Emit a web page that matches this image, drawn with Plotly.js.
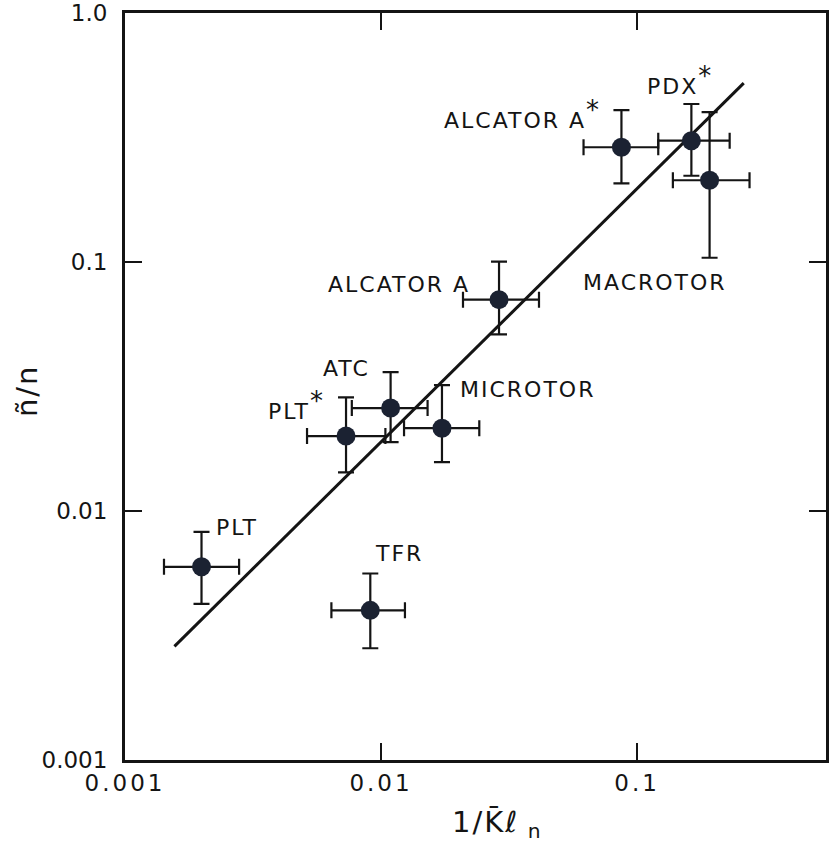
<!DOCTYPE html>
<html>
<head>
<meta charset="utf-8">
<script src="https://cdn.plot.ly/plotly-3.0.1.min.js"></script>
<style>
  html, body { margin: 0; padding: 0; background: #ffffff; }
  #chart { width: 832px; height: 846px; }
  .annotation-text { letter-spacing: 2px; }
  .xtick text { letter-spacing: 3px; }
</style>
</head>
<body>
<div id="chart"></div>
<script>
// Data (log-log axes)
const names = ["PLT", "TFR", "PLT*", "ATC", "MICROTOR", "ALCATOR A", "ALCATOR A*", "PDX*", "MACROTOR"];
const starred = [false, false, true, false, false, false, true, true, false];
const xVal  = [0.00199, 0.00908, 0.0073, 0.0109, 0.0173, 0.0289, 0.0869, 0.163, 0.192];
const xLow  = [0.00142, 0.0064, 0.00514, 0.00769, 0.0123, 0.0209, 0.0618, 0.121, 0.138];
const xHigh = [0.00279, 0.0124, 0.0104, 0.0152, 0.0242, 0.0414, 0.121, 0.230, 0.275];
const yVal  = [0.00597, 0.00399, 0.0200, 0.0259, 0.0215, 0.0706, 0.289, 0.307, 0.213];
const yLow  = [0.00424, 0.00281, 0.0143, 0.0189, 0.0157, 0.0512, 0.207, 0.222, 0.104];
const yHigh = [0.00824, 0.00561, 0.0286, 0.0361, 0.0320, 0.1004, 0.407, 0.431, 0.400];
const fitX = [0.00156, 0.261];
const fitY = [0.00286, 0.523];
const xTickVals = [0.001, 0.01, 0.1];
const xTickText = ["0.001", "0.01", "0.1"];
const yTickVals = [0.001, 0.01, 0.1, 1];
const yTickText = ["0.001", "0.01", "0.1", "1.0"];

// Label placement (pixel offsets from each point)
const labelPos = [
  {xa: "left",   dx: 12,  dy: 39},
  {xa: "left",   dx: 3,   dy: 57},
  {xa: "right",  dx: -19, dy: 31},
  {xa: "right",  dx: -19, dy: 40},
  {xa: "left",   dx: 16,  dy: 39},
  {xa: "right",  dx: -27, dy: 15},
  {xa: "right",  dx: -18, dy: 33},
  {xa: "left",   dx: -46, dy: 61},
  {xa: "center", dx: -55, dy: -102}
];

const ink = "#141414";
const dot = "#1b2232";

const points = {
  x: xVal, y: yVal, type: "scatter", mode: "markers", text: names,
  marker: {size: 19, color: dot, line: {width: 0}},
  error_x: {type: "data", symmetric: false,
    array: xHigh.map((h, i) => h - xVal[i]),
    arrayminus: xLow.map((l, i) => xVal[i] - l),
    color: ink, thickness: 2.2, width: 8},
  error_y: {type: "data", symmetric: false,
    array: yHigh.map((h, i) => h - yVal[i]),
    arrayminus: yLow.map((l, i) => yVal[i] - l),
    color: ink, thickness: 2.2, width: 8},
  hoverinfo: "text"
};

const fit = {
  x: fitX, y: fitY, type: "scatter", mode: "lines",
  line: {color: ink, width: 3}, hoverinfo: "skip"
};

const font = {family: "DejaVu Sans, Liberation Sans, sans-serif", color: ink};

const annotations = names.map((n, i) => {
  const base = starred[i] ? n.slice(0, -1) : n;
  const txt = starred[i] ? base + "<sup><span style='font-size:26px'>*</span></sup>" : base;
  return {
    x: Math.log10(xVal[i]), y: Math.log10(yVal[i]), xref: "x", yref: "y",
    text: txt, showarrow: false, xanchor: labelPos[i].xa, yanchor: "middle",
    xshift: labelPos[i].dx, yshift: labelPos[i].dy,
    font: Object.assign({size: 22}, font)
  };
});

annotations.push({
  xref: "paper", yref: "paper", x: 0.531, y: -0.057, xanchor: "center", yanchor: "top",
  text: "1/K\u0304\u2113<sub> n</sub>", showarrow: false,
  font: Object.assign({size: 29}, font)
});
annotations.push({
  xref: "paper", yref: "paper", x: -0.14, y: 0.495, xanchor: "center", yanchor: "middle",
  text: "n\u0303/n", showarrow: false, textangle: -90,
  font: Object.assign({size: 29}, font)
});

const axisCommon = {
  type: "log", showgrid: false, zeroline: false,
  showline: true, linecolor: ink, linewidth: 3, mirror: "ticks",
  ticks: "inside", ticklen: 17, tickwidth: 2.5, tickcolor: ink,
  tickfont: Object.assign({size: 23}, font)
};

const layout = {
  width: 832, height: 846,
  margin: {l: 125, r: 6, t: 13, b: 86},
  paper_bgcolor: "#ffffff", plot_bgcolor: "#ffffff",
  showlegend: false,
  xaxis: Object.assign({}, axisCommon, {
    range: [-3, -0.262], tickmode: "array", tickvals: xTickVals, ticktext: xTickText,
    ticklabelstandoff: 0
  }),
  yaxis: Object.assign({}, axisCommon, {
    range: [-3, 0], tickmode: "array", tickvals: yTickVals, ticktext: yTickText,
    ticklabelstandoff: 10
  }),
  annotations: annotations
};

Plotly.newPlot("chart", [fit, points], layout, {staticPlot: true, displayModeBar: false});
</script>
</body>
</html>
